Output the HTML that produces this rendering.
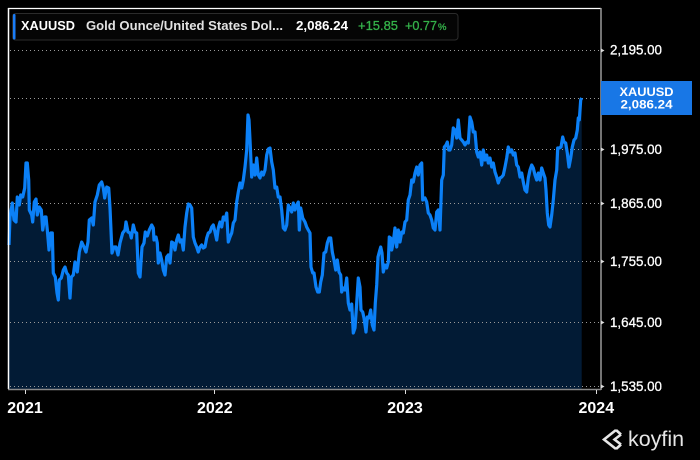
<!DOCTYPE html>
<html><head><meta charset="utf-8"><style>
html,body{margin:0;padding:0;background:#000;width:700px;height:460px;overflow:hidden}
svg{display:block;font-family:"Liberation Sans",Arial,sans-serif}
</style></head><body>
<svg width="700" height="460" viewBox="0 0 700 460" xmlns="http://www.w3.org/2000/svg">
<rect width="700" height="460" fill="#000"/>
<path fill="#021b35" d="M9,389 L9,245 L10,217 L12.3,203 L14,220 L16,222 L17.3,197 L19.3,205 L20.7,195 L22.7,197 L24.7,188 L26,163 L27.3,163 L28.7,180 L29.3,210 L31.7,215 L32.7,222 L34.3,202 L36,199 L37.3,215 L39.3,207 L41.3,210 L42.7,230 L44.7,217 L46,217 L47.3,230 L49,250 L50.7,233 L52.3,233 L53.3,273 L55.3,277 L57,293 L58.3,300 L59.3,280 L61.3,278 L63.3,270 L65,267 L66.7,273 L68.3,275 L70,298 L71.3,277 L73.3,275 L75,262 L77.3,272 L79.3,252 L81.7,242 L84,247 L86,252 L88,242 L89.3,220 L91.7,218 L93.3,225 L95,202 L97.3,195 L99.3,185 L101.7,182 L103.3,188 L104.7,198 L106.7,187 L108.7,188 L110,208 L112,253 L114,247 L116,247 L118,255 L120,243 L122.7,233 L125,230 L126,222 L128,232 L130,233 L131.3,238 L133.3,225 L135,232 L136.7,233 L138.3,273 L140,277 L142,247 L144,243 L145.3,232 L147.3,236 L149.3,230 L151.7,225 L153.3,228 L154,240 L156,237 L157.3,243 L158.3,263 L160,253 L161.7,260 L163.3,270 L165,275 L166.7,257 L168.3,255 L170,263 L171.7,242 L173.3,243 L175,250 L176.7,240 L178.3,235 L180,242 L181.7,240 L183.3,250 L185,227 L186.7,213 L188.3,204 L190,205 L191.7,208 L193.3,237 L195,243 L196.7,247 L198.3,252 L200,247 L201.7,245 L203.3,248 L205,247 L206.7,238 L208.3,233 L210,232 L211.7,227 L213.3,225 L215,232 L216.7,240 L218.3,228 L220,222 L221.7,227 L223.3,217 L225,220 L226.7,213 L228.3,242 L230,237 L231.7,233 L233.3,223 L235,220 L236.7,202 L238.3,192 L240,183 L241.7,188 L243.3,180 L245,167 L246.7,150 L248,115 L249,120 L250,140 L251.7,177 L253.3,165 L255,175 L256.7,158 L258.3,175 L260,178 L261.7,172 L263.3,175 L265,170 L266.7,155 L268.3,149 L270,148 L271.7,162 L273.3,170 L275,188 L276.7,187 L278.3,197 L280,197 L281.7,210 L283.3,228 L285,230 L286.7,225 L288.3,205 L290,208 L291.7,212 L293.3,203 L295,210 L296.7,205 L298.3,202 L299.3,230 L300.7,208 L302.7,218 L305,222 L306.7,227 L308.3,230 L310,233 L311,267 L312.7,273 L314,273 L316,287 L317.7,292 L319.3,292 L320.7,282 L322.3,275 L324,253 L325.7,252 L327.3,243 L329,238 L330.7,238 L332.3,252 L334,260 L335.7,270 L337.3,260 L339,272 L340.7,275 L341.7,292 L343.3,288 L345,290 L346.7,278 L348.3,303 L350,310 L351.7,304 L353.3,333 L355,328 L356.7,303 L358.3,278 L360,287 L361,310 L362.7,312 L364,318 L366,332 L367.3,317 L369,318 L370.7,310 L372.3,325 L374,330 L375.3,303 L376.7,285 L378,257 L379.3,252 L380.7,247 L382,253 L383.3,272 L385,265 L386.7,268 L388.3,262 L389.3,237 L390.7,238 L391.7,250 L393.3,242 L395,228 L396.7,247 L398.3,230 L400,242 L401.7,232 L403.3,233 L405,222 L406.7,220 L408.3,200 L410,195 L411.7,180 L413.3,182 L415,173 L416.7,167 L418.3,175 L420,165 L421.7,163 L422.7,200 L425,198 L426.7,202 L428.3,213 L430,215 L431.7,220 L433.3,228 L435,230 L436.7,212 L438.3,210 L440,230 L441.7,180 L443.3,175 L444.3,147 L446,145 L447.3,142 L448.7,150 L450,150 L451.7,145 L453.3,128 L455,130 L456.7,138 L458.3,120 L460,138 L461.7,140 L463.3,142 L465,145 L466.7,142 L468.3,143 L470,117 L471.7,122 L473.3,132 L475,132 L476.7,152 L478.3,157 L480,152 L481.7,165 L483.3,150 L485,160 L486.7,155 L488.3,163 L490,158 L491.7,167 L493.3,163 L495,172 L496.7,177 L498.3,183 L500,178 L501.7,177 L503.3,175 L505,167 L506.7,158 L508.3,147 L510,152 L511.7,150 L513.3,155 L515,153 L516.7,165 L518.3,167 L520,177 L521.7,173 L523.3,182 L525,190 L526.7,192 L528.3,178 L530,170 L531.7,165 L533.3,168 L535,175 L536.7,180 L538.3,173 L540,180 L541.7,168 L543.3,173 L545,178 L546,190 L547.3,213 L548.7,225 L550,227 L551.7,215 L553.3,200 L555,180 L556.7,170 L557.7,148 L559.3,148 L561,147 L562.7,137 L564,142 L565.7,143 L567.3,153 L569,167 L570.7,158 L572.3,147 L574,140 L575.7,138 L577.3,130 L578.3,118 L579.3,120 L580.7,100 L581.7,98 L581.7,389 Z"/>
<g stroke="#9a9a9a" stroke-width="1" stroke-dasharray="1 3">
<line x1="10" y1="50.5" x2="600" y2="50.5"/>
<line x1="10" y1="98.5" x2="600" y2="98.5"/>
<line x1="10" y1="149.5" x2="600" y2="149.5"/>
<line x1="10" y1="203.5" x2="600" y2="203.5"/>
<line x1="10" y1="261.5" x2="600" y2="261.5"/>
<line x1="10" y1="322.5" x2="600" y2="322.5"/>
<line x1="10" y1="386.5" x2="600" y2="386.5"/>
</g>
<path fill="none" stroke="#0b80f7" stroke-width="3.2" stroke-linejoin="round" d="M9,245 L10,217 L12.3,203 L14,220 L16,222 L17.3,197 L19.3,205 L20.7,195 L22.7,197 L24.7,188 L26,163 L27.3,163 L28.7,180 L29.3,210 L31.7,215 L32.7,222 L34.3,202 L36,199 L37.3,215 L39.3,207 L41.3,210 L42.7,230 L44.7,217 L46,217 L47.3,230 L49,250 L50.7,233 L52.3,233 L53.3,273 L55.3,277 L57,293 L58.3,300 L59.3,280 L61.3,278 L63.3,270 L65,267 L66.7,273 L68.3,275 L70,298 L71.3,277 L73.3,275 L75,262 L77.3,272 L79.3,252 L81.7,242 L84,247 L86,252 L88,242 L89.3,220 L91.7,218 L93.3,225 L95,202 L97.3,195 L99.3,185 L101.7,182 L103.3,188 L104.7,198 L106.7,187 L108.7,188 L110,208 L112,253 L114,247 L116,247 L118,255 L120,243 L122.7,233 L125,230 L126,222 L128,232 L130,233 L131.3,238 L133.3,225 L135,232 L136.7,233 L138.3,273 L140,277 L142,247 L144,243 L145.3,232 L147.3,236 L149.3,230 L151.7,225 L153.3,228 L154,240 L156,237 L157.3,243 L158.3,263 L160,253 L161.7,260 L163.3,270 L165,275 L166.7,257 L168.3,255 L170,263 L171.7,242 L173.3,243 L175,250 L176.7,240 L178.3,235 L180,242 L181.7,240 L183.3,250 L185,227 L186.7,213 L188.3,204 L190,205 L191.7,208 L193.3,237 L195,243 L196.7,247 L198.3,252 L200,247 L201.7,245 L203.3,248 L205,247 L206.7,238 L208.3,233 L210,232 L211.7,227 L213.3,225 L215,232 L216.7,240 L218.3,228 L220,222 L221.7,227 L223.3,217 L225,220 L226.7,213 L228.3,242 L230,237 L231.7,233 L233.3,223 L235,220 L236.7,202 L238.3,192 L240,183 L241.7,188 L243.3,180 L245,167 L246.7,150 L248,115 L249,120 L250,140 L251.7,177 L253.3,165 L255,175 L256.7,158 L258.3,175 L260,178 L261.7,172 L263.3,175 L265,170 L266.7,155 L268.3,149 L270,148 L271.7,162 L273.3,170 L275,188 L276.7,187 L278.3,197 L280,197 L281.7,210 L283.3,228 L285,230 L286.7,225 L288.3,205 L290,208 L291.7,212 L293.3,203 L295,210 L296.7,205 L298.3,202 L299.3,230 L300.7,208 L302.7,218 L305,222 L306.7,227 L308.3,230 L310,233 L311,267 L312.7,273 L314,273 L316,287 L317.7,292 L319.3,292 L320.7,282 L322.3,275 L324,253 L325.7,252 L327.3,243 L329,238 L330.7,238 L332.3,252 L334,260 L335.7,270 L337.3,260 L339,272 L340.7,275 L341.7,292 L343.3,288 L345,290 L346.7,278 L348.3,303 L350,310 L351.7,304 L353.3,333 L355,328 L356.7,303 L358.3,278 L360,287 L361,310 L362.7,312 L364,318 L366,332 L367.3,317 L369,318 L370.7,310 L372.3,325 L374,330 L375.3,303 L376.7,285 L378,257 L379.3,252 L380.7,247 L382,253 L383.3,272 L385,265 L386.7,268 L388.3,262 L389.3,237 L390.7,238 L391.7,250 L393.3,242 L395,228 L396.7,247 L398.3,230 L400,242 L401.7,232 L403.3,233 L405,222 L406.7,220 L408.3,200 L410,195 L411.7,180 L413.3,182 L415,173 L416.7,167 L418.3,175 L420,165 L421.7,163 L422.7,200 L425,198 L426.7,202 L428.3,213 L430,215 L431.7,220 L433.3,228 L435,230 L436.7,212 L438.3,210 L440,230 L441.7,180 L443.3,175 L444.3,147 L446,145 L447.3,142 L448.7,150 L450,150 L451.7,145 L453.3,128 L455,130 L456.7,138 L458.3,120 L460,138 L461.7,140 L463.3,142 L465,145 L466.7,142 L468.3,143 L470,117 L471.7,122 L473.3,132 L475,132 L476.7,152 L478.3,157 L480,152 L481.7,165 L483.3,150 L485,160 L486.7,155 L488.3,163 L490,158 L491.7,167 L493.3,163 L495,172 L496.7,177 L498.3,183 L500,178 L501.7,177 L503.3,175 L505,167 L506.7,158 L508.3,147 L510,152 L511.7,150 L513.3,155 L515,153 L516.7,165 L518.3,167 L520,177 L521.7,173 L523.3,182 L525,190 L526.7,192 L528.3,178 L530,170 L531.7,165 L533.3,168 L535,175 L536.7,180 L538.3,173 L540,180 L541.7,168 L543.3,173 L545,178 L546,190 L547.3,213 L548.7,225 L550,227 L551.7,215 L553.3,200 L555,180 L556.7,170 L557.7,148 L559.3,148 L561,147 L562.7,137 L564,142 L565.7,143 L567.3,153 L569,167 L570.7,158 L572.3,147 L574,140 L575.7,138 L577.3,130 L578.3,118 L579.3,120 L580.7,100 L581.7,98"/>
<line x1="8" y1="8.5" x2="601" y2="8.5" stroke="#fff" stroke-width="1.2"/>
<line x1="8.5" y1="8" x2="8.5" y2="389" stroke="#fff" stroke-width="1.5"/>
<line x1="601" y1="8" x2="601" y2="390" stroke="#9a9a9a" stroke-width="1.5"/>
<line x1="8" y1="389.5" x2="601" y2="389.5" stroke="#8a8a8a" stroke-width="1.5"/>
<g stroke="#ddd" stroke-width="1">
<line x1="25.5" y1="390" x2="25.5" y2="394"/>
<line x1="214.5" y1="390" x2="214.5" y2="394"/>
<line x1="405.5" y1="390" x2="405.5" y2="394"/>
<line x1="596.5" y1="390" x2="596.5" y2="394"/>
</g>
<g fill="#ddd">
<path d="M601,48.5 L604.5,50.5 L601,52.5Z"/>
<path d="M601,147.5 L604.5,149.5 L601,151.5Z"/>
<path d="M601,201.5 L604.5,203.5 L601,205.5Z"/>
<path d="M601,259.5 L604.5,261.5 L601,263.5Z"/>
<path d="M601,320.5 L604.5,322.5 L601,324.5Z"/>
<path d="M601,384.5 L604.5,386.5 L601,388.5Z"/>
</g>
<g fill="#fff" stroke="#fff" stroke-width="0.3" font-size="13.5">
<text x="610" y="54.5" textLength="52" lengthAdjust="spacingAndGlyphs">2,195.00</text>
<text x="610" y="154" textLength="52" lengthAdjust="spacingAndGlyphs">1,975.00</text>
<text x="610" y="208" textLength="52" lengthAdjust="spacingAndGlyphs">1,865.00</text>
<text x="610" y="266" textLength="52" lengthAdjust="spacingAndGlyphs">1,755.00</text>
<text x="610" y="327" textLength="52" lengthAdjust="spacingAndGlyphs">1,645.00</text>
<text x="610" y="391" textLength="52" lengthAdjust="spacingAndGlyphs">1,535.00</text>
</g>
<rect x="601" y="81" width="91" height="34" fill="#1877e6"/>
<g fill="#fff" font-size="12" font-weight="bold" text-anchor="middle">
<text x="646.5" y="96" textLength="54" lengthAdjust="spacingAndGlyphs">XAUUSD</text>
<text x="646.5" y="108.5" textLength="52" lengthAdjust="spacingAndGlyphs">2,086.24</text>
</g>
<g fill="#fff" font-size="16" font-weight="bold" text-anchor="middle">
<text x="25" y="413">2021</text>
<text x="214.8" y="413">2022</text>
<text x="405" y="413">2023</text>
<text x="596.3" y="413">2024</text>
</g>
<rect x="12.5" y="13.5" width="445.5" height="26.5" rx="3" fill="#050505" stroke="#2b2b2b" stroke-width="1"/>
<rect x="13" y="14" width="2.5" height="25.5" rx="1" fill="#1a7cf5"/>
<g font-size="13" font-weight="bold">
<text x="21" y="30" fill="#fff" textLength="54" lengthAdjust="spacingAndGlyphs">XAUUSD</text>
<text x="86" y="30" fill="#e2e2e2" textLength="197" lengthAdjust="spacingAndGlyphs">Gold Ounce/United States Dol...</text>
<text x="296" y="30" fill="#fff" textLength="52" lengthAdjust="spacingAndGlyphs">2,086.24</text>
</g>
<g font-size="13" fill="#35b24a" stroke="#35b24a" stroke-width="0.3">
<text x="358" y="30" textLength="40" lengthAdjust="spacingAndGlyphs">+15.85</text>
<text x="405" y="30" textLength="32" lengthAdjust="spacingAndGlyphs">+0.77</text>
<text x="438" y="30" font-size="9.5">%</text>
</g>
<g fill="none" stroke="#e6e6e6" stroke-width="2.6" stroke-linejoin="miter">
<path d="M616,430 L604,439.5 L616,449"/>
<path d="M621,434.5 L614.5,439.5 L621,444.5"/>
<path d="M616,430 L621,434.5"/>
<path d="M616,449 L621,444.5"/>
</g>
<text x="628" y="446" fill="#e6e6e6" font-size="21" textLength="56" lengthAdjust="spacingAndGlyphs">koyfin</text>
</svg>
</body></html>
